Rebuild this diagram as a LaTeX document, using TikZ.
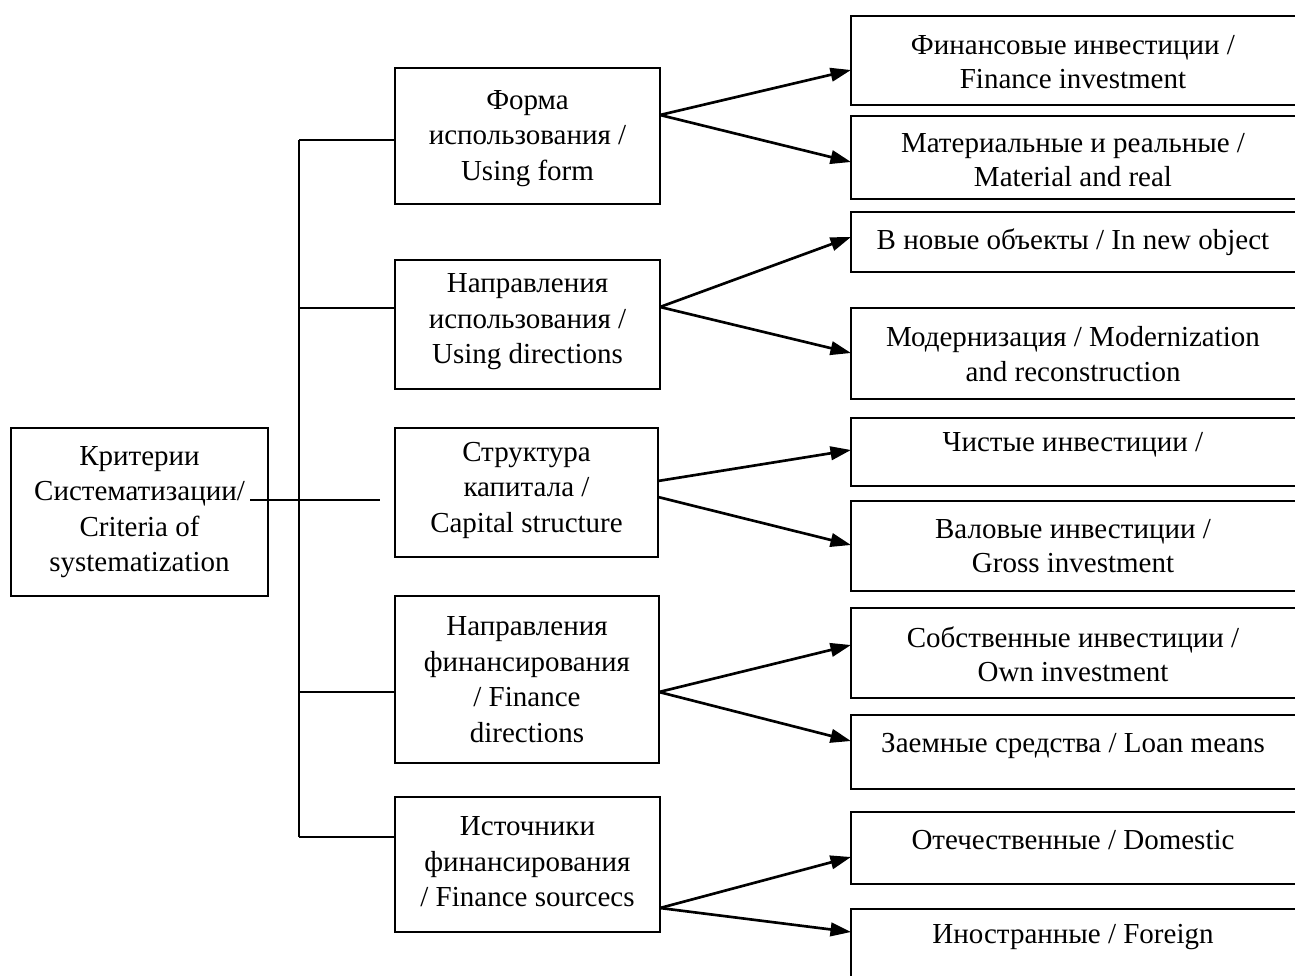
\documentclass[tikz,border=0pt]{standalone}
\usepackage{fontspec}
\setmainfont{Liberation Serif}
\usetikzlibrary{arrows.meta,fit}
\begin{document}
\begin{tikzpicture}[x=0.4138pt,y=-0.4138pt,
  box/.style={draw,line width=0.8pt,inner sep=0pt,outer sep=0pt},
  txt/.style={align=center,inner sep=0pt,font=\fontsize{12}{14.2}\selectfont},
  ctxt/.style={align=center,inner sep=0pt,font=\fontsize{12}{14.7}\selectfont},
  link/.style={line width=0.8pt},
  arr/.style={line width=1.1pt,-{Triangle[length=8.5pt,width=5.6pt]}}]
\clip (0,0) rectangle (1295,976);

% root criterion
\node[box,fit={(11,428) (268,596)}] (root) {};
\node[ctxt] (roott) at (root.center)
  {Критерии\\Систематизации/\\Criteria of\\systematization};

% criteria column
\node[box,fit={(395,68) (660,204)}] (m1) {};
\node[box,fit={(395,260) (660,389)}] (m2) {};
\node[box,fit={(395,428) (658,557)}] (m3) {};
\node[box,fit={(395,596) (659,763)}] (m4) {};
\node[box,fit={(395,797) (660,932)}] (m5) {};
\node[ctxt] (mt1) at ([yshift=-1pt]m1.center) {Форма\\использования /\\Using form};
\node[ctxt] (mt2) at ([yshift=1pt]m2.center) {Направления\\использования /\\Using directions};
\node[ctxt] (mt3) at ([yshift=1pt]m3.center) {Структура\\капитала /\\Capital structure};
\node[ctxt] (mt4) at (m4.center) {Направления\\финансирования\\/ Finance\\directions};
\node[ctxt] (mt5) at ([yshift=1pt]m5.center) {Источники\\финансирования\\/ Finance sourcecs};

% kinds of investment (right column, open to the right)
\node[box,fit={(851,16) (1300,105)}] (r1) {};
\node[box,fit={(851,116) (1300,199)}] (r2) {};
\node[box,fit={(851,212) (1300,272)}] (r3) {};
\node[box,fit={(851,308) (1300,399)}] (r4) {};
\node[box,fit={(851,418) (1300,486)}] (r5) {};
\node[box,fit={(851,501) (1300,591)}] (r6) {};
\node[box,fit={(851,608) (1300,698)}] (r7) {};
\node[box,fit={(851,715) (1300,789)}] (r8) {};
\node[box,fit={(851,812) (1300,884)}] (r9) {};
\node[box,fit={(851,909) (1300,990)}] (r10) {};

\node[txt] (rt1) at (1073,62) {Финансовые инвестиции /\\Finance investment};
\node[txt] (rt2) at (1073,160) {Материальные и реальные /\\Material and real};
\node[txt] (rt3) at (1073,242) {В новые объекты / In new object};
\node[txt] (rt4) at (1073,354) {Модернизация / Modernization\\and reconstruction};
\node[txt] (rt5) at (1073,445) {Чистые инвестиции /};
\node[txt] (rt6) at (1073,546) {Валовые инвестиции /\\Gross investment};
\node[txt] (rt7) at (1073,654) {Собственные инвестиции /\\Own investment};
\node[txt] (rt8) at (1073,746) {Заемные средства / Loan means};
\node[txt] (rt9) at (1073,840) {Отечественные / Domestic};
\node[txt] (rt10) at (1073,937) {Иностранные / Foreign};

% tree bus
\coordinate (rootout) at (250,500);
\coordinate (rootend) at (380,500);
\coordinate (bustop) at (299,140);
\coordinate (busbot) at (299,837);
\draw[link] (rootout) -- (rootend);
\draw[link] (bustop) -- (busbot);
\draw[link] (bustop) -- (bustop -| m1.west);
\draw[link] (299,308) -- (299,308 -| m2.west);
\draw[link] (299,692) -- (299,692 -| m4.west);
\draw[link] (busbot) -- (busbot -| m5.west);

% arrows to the kinds
\draw[arr] (m1.east |- 0,115) -- (r1.west |- 0,70);
\draw[arr] (m1.east |- 0,115) -- (r2.west |- 0,162);
\draw[arr] (m2.east |- 0,307) -- (r3.west |- 0,237);
\draw[arr] (m2.east |- 0,307) -- (r4.west |- 0,353);
\draw[arr] (m3.east |- 0,481) -- (r5.west |- 0,450);
\draw[arr] (m3.east |- 0,497) -- (r6.west |- 0,545);
\draw[arr] (m4.east |- 0,692) -- (r7.west |- 0,645);
\draw[arr] (m4.east |- 0,692) -- (r8.west |- 0,741);
\draw[arr] (m5.east |- 0,908) -- (r9.west |- 0,857);
\draw[arr] (m5.east |- 0,908) -- (r10.west |- 0,932);
\end{tikzpicture}
\end{document}
